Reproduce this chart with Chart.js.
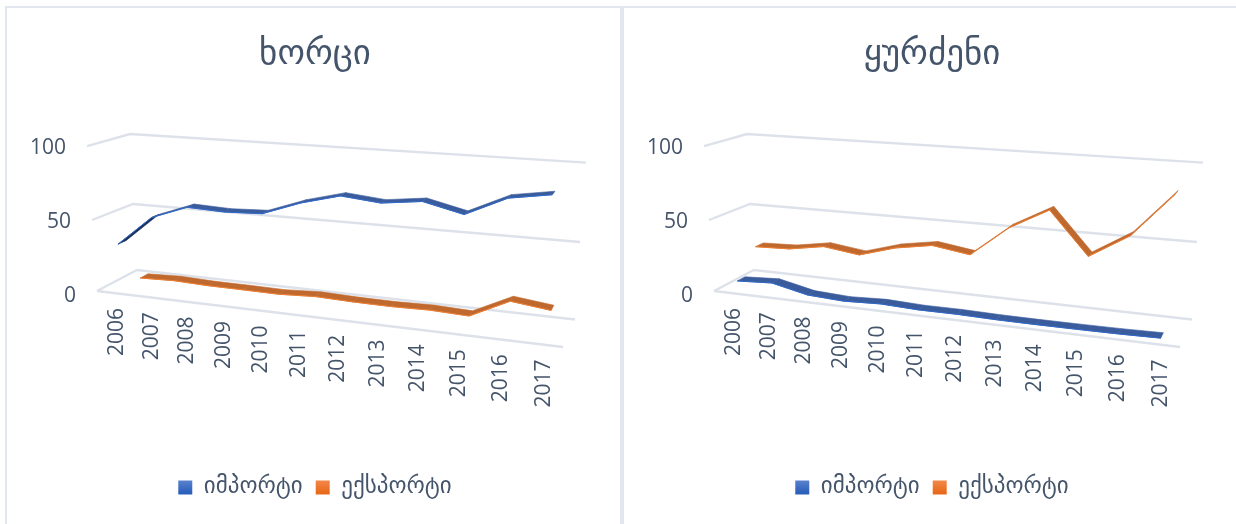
<!DOCTYPE html>
<html>
<head>
<meta charset="utf-8">
<style>
    html, body { margin: 0; background: #fff; width: 1236px; height: 524px; overflow: hidden; }
    canvas { position: absolute; top: 0; }
    .edge { position: absolute; background: #E2E7EF; }
</style>
</head>
<body>
<div class="edge" style="left:6px;top:6px;width:1230px;height:2px"></div>
<div class="edge" style="left:5px;top:6px;width:2px;height:518px"></div>
<div class="edge" style="left:620px;top:6px;width:3.5px;height:518px"></div>
<canvas id="chart-meat" width="630" height="524" style="left:0"></canvas>
<canvas id="chart-grape" width="630" height="524" style="left:617px"></canvas>
<script src="https://cdn.jsdelivr.net/npm/chart.js@4"></script>
<script>
    const years = ['2006', '2007', '2008', '2009', '2010', '2011', '2012', '2013', '2014', '2015', '2016', '2017'];
    const importLabel = 'იმპორტი';
    const exportLabel = 'ექსპორტი';

    const meatImport = [32, 53, 62, 61, 62, 71, 77.5, 75, 78, 72, 84, 88];
    const meatExport = [0.6, 1.5, 0.7, 0.6, 0.4, 1.7, 1, 0.8, 1.4, 0.5, 13, 10];
    const grapeImport = [6, 7.4, 1.9, 0.6, 1.7, 0.7, 0.8, 0.3, 0.2, 0.3, 0.5, 1];
    const grapeExport = [23.6, 24.5, 28.7, 25.3, 32.7, 36.9, 33, 53.5, 67, 39.4, 55, 83];

    const FONT = '"DejaVu Sans", "Open Sans", sans-serif';
    const TEXT = '#44546A';
    const GRID = '#DDE1EA';

    // the box of the 3D view: corners at value 0, 50 and 100
    const box = {
        frontLeft:  [[97, 291], [92, 220], [87, 146]],
        frontRight: [[563, 347], [568, 264], [574, 179]],
        backLeft:   [[137, 270], [133, 204], [130, 134]],
        backRight:  [[575, 319.5], [580, 242], [586, 162.5]],
    };
    const RIBBON = 0.2;
    const rows = [
        { depth: 0.17, top: '#3B5C9C', under: '#1B2F5A', light: '#5F86CF', dark: '#2A5FBB' },
        { depth: 0.67, top: '#C0692F', under: '#7A3A10', light: '#F48B4E', dark: '#E8691A' },
    ];

    function project(u, v, d) {
        const warped = u * 0.88 + 0.12 * u * u;
        const s = Math.min(1.999, Math.max(0, v * 2));
        const i = Math.floor(s);
        const t = s - i;
        const at = (level, k) => {
            const front = box.frontLeft[level][k] + (box.frontRight[level][k] - box.frontLeft[level][k]) * warped;
            const back = box.backLeft[level][k] + (box.backRight[level][k] - box.backLeft[level][k]) * warped;
            return front + (back - front) * d;
        };
        return [0, 1].map(k => at(i, k) + (at(i + 1, k) - at(i, k)) * t);
    }

    function uOf(chart, index) {
        const a = chart.chartArea;
        return (chart.scales.x.getPixelForValue(index) - a.left) / a.width;
    }

    function vOf(chart, value) {
        const a = chart.chartArea;
        return (a.bottom - chart.scales.y.getPixelForValue(value)) / a.height;
    }

    const view3d = {
        id: 'view3d',
        afterDatasetsUpdate(chart) {
            chart.data.datasets.forEach((ds, n) => {
                chart.getDatasetMeta(n).data.forEach((pt, i) => {
                    const [x, y] = project(uOf(chart, i), vOf(chart, ds.data[i]), rows[n].depth);
                    pt.x = x;
                    pt.y = y;
                });
            });
        },
        beforeDraw(chart) {
            const { x, y } = chart.scales;
            y.getLabelItems().forEach((item, i) => {
                const start = project(0, vOf(chart, y.ticks[i].value), 0);
                item.options.translation[0] = start[0] - 21;
                item.options.translation[1] += 1;
            });
            x.getLabelItems().forEach((item, i) => {
                const edge = project(uOf(chart, i), 0, 0);
                item.options.translation = [edge[0] - 10, edge[1] + 15];
            });
        },
        beforeDatasetsDraw(chart) {
            const ctx = chart.ctx;
            ctx.save();
            ctx.strokeStyle = GRID;
            ctx.lineWidth = 2.4;
            chart.scales.y.ticks.forEach(tick => {
                const v = vOf(chart, tick.value);
                const a = project(0, v, 0), b = project(0, v, 1), c = project(1, v, 1);
                ctx.beginPath();
                ctx.moveTo(a[0], a[1]);
                ctx.lineTo(b[0], b[1]);
                ctx.lineTo(c[0], c[1]);
                ctx.stroke();
            });
            const f0 = project(0, 0, 0), f1 = project(1, 0, 0);
            ctx.beginPath();
            ctx.moveTo(f0[0], f0[1]);
            ctx.lineTo(f1[0], f1[1]);
            ctx.stroke();
            ctx.restore();
        },
        // ribbon of the 3D line, the library draws its front edge on top
        beforeDatasetDraw(chart, args) {
            const ctx = chart.ctx;
            const row = rows[args.index];
            const values = chart.data.datasets[args.index].data;
            const front = i => project(uOf(chart, i), vOf(chart, values[i]), row.depth);
            const back = i => project(uOf(chart, i), vOf(chart, values[i]), row.depth + RIBBON);
            ctx.save();
            for (let i = 0; i < values.length - 1; i++) {
                const a = front(i), b = front(i + 1), c = back(i + 1), d = back(i);
                const slope = (b[1] - a[1]) / (b[0] - a[0]);
                const seenFromTop = (d[1] - a[1]) < slope * (d[0] - a[0]);
                const color = seenFromTop ? row.top : row.under;
                ctx.fillStyle = color;
                ctx.strokeStyle = color;
                ctx.lineWidth = 0.6;
                ctx.beginPath();
                ctx.moveTo(a[0], a[1]);
                ctx.lineTo(b[0], b[1]);
                ctx.lineTo(c[0], c[1]);
                ctx.lineTo(d[0], d[1]);
                ctx.closePath();
                ctx.fill();
                ctx.stroke();
            }
            ctx.restore();
        },
    };

    function legendLabels(chart) {
        return Chart.defaults.plugins.legend.labels.generateLabels(chart).map((item, n) => {
            const fill = chart.ctx.createLinearGradient(0, 479, 0, 493);
            fill.addColorStop(0, rows[n].light);
            fill.addColorStop(1, rows[n].dark);
            item.fillStyle = fill;
            item.lineWidth = 0;
            return item;
        });
    }

    function makeChart(id, title, importValues, exportValues) {
        return new Chart(document.getElementById(id), {
            type: 'line',
            data: {
                labels: years,
                datasets: [
                    { label: importLabel, data: importValues, borderColor: '#2E68C8', backgroundColor: '#3A6CC4', borderWidth: 1, pointRadius: 0, tension: 0, clip: false },
                    { label: exportLabel, data: exportValues, borderColor: '#ED7D31', backgroundColor: '#ED7D31', borderWidth: 1, pointRadius: 0, tension: 0, clip: false },
                ],
            },
            plugins: [view3d],
            options: {
                responsive: false,
                animation: false,
                layout: { padding: { bottom: 15 } },
                plugins: {
                    title: {
                        display: true,
                        text: title,
                        color: TEXT,
                        font: { family: FONT, size: 35, weight: 'normal' },
                        padding: { top: 34, bottom: 71 },
                    },
                    legend: {
                        position: 'bottom',
                        labels: { color: TEXT, font: { family: FONT, size: 23 }, boxWidth: 14, boxHeight: 14, padding: 13, generateLabels: legendLabels },
                    },
                    tooltip: { enabled: false },
                },
                scales: {
                    x: {
                        offset: true,
                        grid: { display: false },
                        border: { display: false },
                        afterFit(scale) { scale.height = 168; },
                        ticks: { color: TEXT, font: { family: '"Open Sans", sans-serif', size: 21 }, minRotation: 90, maxRotation: 90, autoSkip: false },
                    },
                    y: {
                        min: 0,
                        max: 100,
                        grid: { display: false },
                        border: { display: false },
                        afterFit(scale) { scale.width = 80; },
                        ticks: { stepSize: 50, color: TEXT, font: { family: '"Open Sans", sans-serif', size: 21 } },
                    },
                },
            },
        });
    }

    makeChart('chart-meat', 'ხორცი', meatImport, meatExport);
    makeChart('chart-grape', 'ყურძენი', grapeImport, grapeExport);
</script>
</body>
</html>
